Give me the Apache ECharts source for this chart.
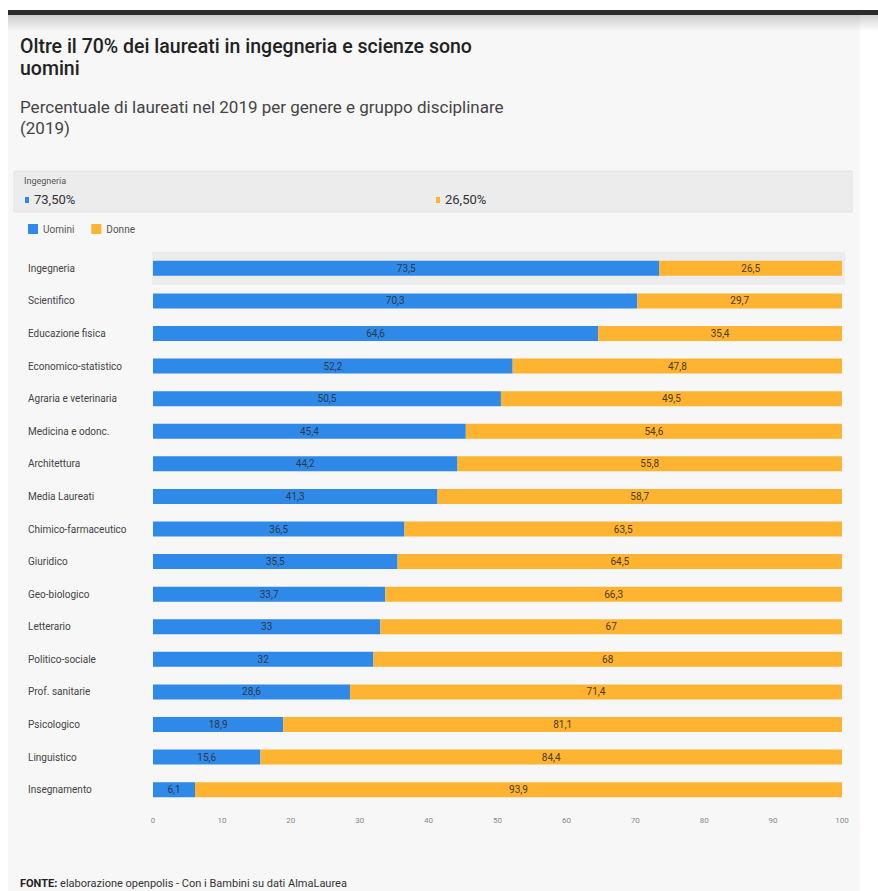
<!DOCTYPE html>
<html>
<head>
<meta charset="utf-8">
<script src="https://cdn.jsdelivr.net/npm/echarts@6/dist/echarts.min.js"></script>
<style>
html,body{margin:0;padding:0;background:#fff;}
#chart{width:878px;height:891px;}
</style>
</head>
<body>
<div id="chart"></div>
<script>
const categories = ["Ingegneria","Scientifico","Educazione fisica","Economico-statistico","Agraria e veterinaria","Medicina e odonc.","Architettura","Media Laureati","Chimico-farmaceutico","Giuridico","Geo-biologico","Letterario","Politico-sociale","Prof. sanitarie","Psicologico","Linguistico","Insegnamento"];
const uomini = [73.5,70.3,64.6,52.2,50.5,45.4,44.2,41.3,36.5,35.5,33.7,33,32,28.6,18.9,15.6,6.1];
const donne = [26.5,29.7,35.4,47.8,49.5,54.6,55.8,58.7,63.5,64.5,66.3,67,68,71.4,81.1,84.4,93.9];
const seriesNames = ["Uomini","Donne"];
const xTicks = [0,10,20,30,40,50,60,70,80,90,100];

const BLUE = '#2f89e8';
const ORANGE = '#ffb431';
const FONT = 'Roboto, "Open Sans", sans-serif';

const fmt = v => String(v).replace('.', ',');
const fmtPct = v => v.toFixed(2).replace('.', ',') + '%';

const chart = echarts.init(document.getElementById('chart'), null, {renderer: 'svg'});

const baseGraphics = [
  {type:'rect', id:'panel', z:0, shape:{x:8,y:15,width:852,height:876}, style:{fill:'#f7f7f7'}},
  {type:'rect', id:'shadow', z:0, shape:{x:8,y:15,width:870,height:16},
    style:{fill:{type:'linear',x:0,y:0,x2:0,y2:1,colorStops:[{offset:0,color:'rgba(0,0,0,0.18)'},{offset:1,color:'rgba(0,0,0,0)'}]}}},
  {type:'rect', id:'topbar', z:1, shape:{x:8,y:10,width:870,height:5}, style:{fill:'#2b2b2b'}},
  {type:'rect', id:'tipbox', z:1, shape:{x:14,y:171,width:838,height:41}, style:{fill:'#ececec', stroke:'#e2e2e2', lineWidth:1}},
  {type:'text', id:'tipcat', z:3, left:24, top:176, style:{text:categories[0], font:'9px '+FONT, fill:'#555'}},
  {type:'rect', id:'tipsq1', z:3, shape:{x:25,y:197,width:4,height:6}, style:{fill:BLUE}},
  {type:'text', id:'tipv1', z:3, left:34, top:193, style:{text:fmtPct(uomini[0]), font:'13px '+FONT, fill:'#333'}},
  {type:'rect', id:'tipsq2', z:3, shape:{x:436,y:197,width:4,height:6}, style:{fill:ORANGE}},
  {type:'text', id:'tipv2', z:3, left:445, top:193, style:{text:fmtPct(donne[0]), font:'13px '+FONT, fill:'#333'}},
  {type:'text', id:'footer', z:3, left:20, top:878, style:{
    text:'{b|FONTE:} elaborazione openpolis - Con i Bambini su dati AlmaLaurea',
    font:'11px '+FONT, fill:'#333',
    rich:{b:{fontWeight:'bold', fontSize:11, fontFamily:FONT, fill:'#222'}}}}
];

const option = {
  backgroundColor:'#ffffff',
  animation:false,
  textStyle:{fontFamily:FONT},
  title:[
    {text:'Oltre il 70% dei laureati in ingegneria e scienze sono\nuomini', left:15, top:30,
     textStyle:{fontSize:19.5, fontWeight:500, color:'#222', lineHeight:22, fontFamily:FONT}},
    {text:'Percentuale di laureati nel 2019 per genere e gruppo disciplinare\n(2019)', left:15, top:91,
     textStyle:{fontSize:17, fontWeight:'normal', color:'#444', lineHeight:21, fontFamily:FONT}}
  ],
  legend:{left:23, top:219, itemWidth:10, itemHeight:10, itemGap:17, icon:'rect',
    textStyle:{fontSize:10, color:'#555', fontFamily:FONT}, data:seriesNames},
  grid:{left:153, right:36, top:252, height:554, containLabel:false},
  xAxis:{type:'value', min:0, max:100, interval:10,
    axisLine:{show:false}, axisTick:{show:false}, splitLine:{show:false},
    axisLabel:{fontSize:8, color:'#888', margin:10, customValues:xTicks}},
  yAxis:{type:'category', data:categories, inverse:true,
    axisLine:{show:false}, axisTick:{show:false},
    axisLabel:{align:'left', margin:125, fontSize:10, color:'#444', fontFamily:FONT}},
  series:[
    {name:seriesNames[0], type:'bar', stack:'tot', data:uomini, barWidth:15, itemStyle:{color:BLUE}, z:3,
     label:{show:true, position:'inside', formatter:p=>fmt(p.value), fontSize:10, color:'#2a3a4a'}},
    {name:seriesNames[1], type:'bar', stack:'tot', data:donne, barWidth:15, itemStyle:{color:ORANGE}, z:3,
     label:{show:true, position:'inside', formatter:p=>fmt(p.value), fontSize:10, color:'#4a3a1a'}}
  ],
  graphic:baseGraphics
};
chart.setOption(option);

// hover highlight band behind first category
const cy = chart.convertToPixel({yAxisIndex:0}, categories[0]);
const x0 = chart.convertToPixel({xAxisIndex:0}, 0);
const x1 = chart.convertToPixel({xAxisIndex:0}, 100);
chart.setOption({graphic: baseGraphics.concat([
  {type:'rect', id:'hover', z:1, shape:{x:x0-1, y:cy-16.5, width:x1-x0+4, height:33}, style:{fill:'#ececec'}}
])});
</script>
</body>
</html>
